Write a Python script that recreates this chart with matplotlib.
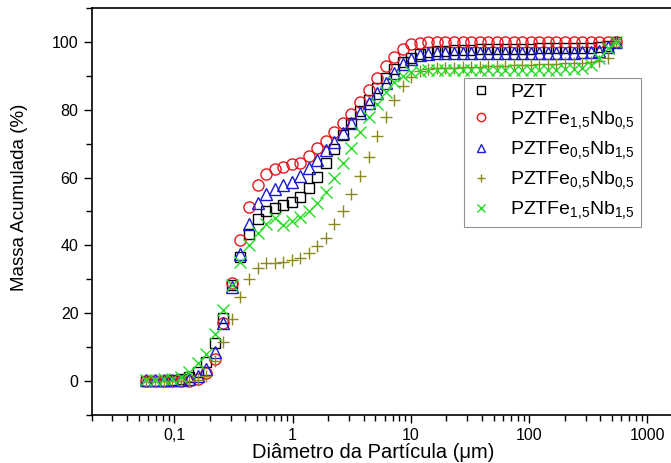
import numpy as np
import matplotlib.pyplot as plt
from matplotlib.ticker import FixedLocator, FixedFormatter, LogLocator, MultipleLocator

plt.rcParams['font.family'] = ['Liberation Sans', 'DejaVu Sans']
plt.rcParams['mathtext.default'] = 'regular'

# particle diameter (um)
diam = [0.0582, 0.0688, 0.0812, 0.0959, 0.1132, 0.1337, 0.1578, 0.1864, 0.2200, 0.2598,
        0.3069, 0.3624, 0.4280, 0.5054, 0.5967, 0.7048, 0.8322, 0.9827, 1.160, 1.370,
        1.618, 1.911, 2.256, 2.665, 3.147, 3.716, 4.388, 5.181, 6.118, 7.225,
        8.532, 10.07, 11.90, 14.05, 16.59, 19.59, 23.14, 27.32, 32.26, 38.09,
        44.98, 53.12, 62.72, 74.07, 87.46, 103.3, 121.9, 144.0, 170.0, 200.8,
        237.2, 280.1, 330.7, 390.6, 461.2, 544.5]

pzt = [0.0, 0.0, 0.1, 0.2, 0.6, 1.3, 2.7, 5.7, 11.1, 18.5,
       28.3, 36.7, 43.4, 47.9, 50.2, 51.1, 51.8, 52.7, 54.3, 56.8,
       60.3, 64.2, 68.3, 72.6, 76.0, 79.5, 83.0, 86.5, 89.5, 92.0,
       94.0, 95.3, 96.3, 96.9, 97.2, 97.4, 97.5, 97.6, 97.7, 97.8,
       97.8, 97.9, 97.9, 98.0, 98.0, 98.0, 98.1, 98.1, 98.1, 98.2,
       98.2, 98.2, 98.3, 98.4, 98.8, 100.0]
fe15nb05 = [0.0, 0.0, 0.0, 0.0, 0.0, 0.1, 0.5, 2.3, 6.4, 17.2,
            29.0, 41.6, 51.2, 57.8, 61.2, 62.4, 63.2, 63.9, 64.4, 66.5,
            68.6, 70.9, 73.3, 76.0, 78.8, 82.2, 85.8, 89.5, 92.9, 95.7,
            97.8, 99.3, 99.8, 100.0, 100.0, 100.0, 100.0, 100.0, 100.0, 100.0,
            100.0, 100.0, 100.0, 100.0, 100.0, 100.0, 100.0, 100.0, 100.0, 100.0,
            100.0, 100.0, 100.0, 100.0, 100.0, 100.0]
fe05nb15 = [0.2, 0.2, 0.3, 0.3, 0.4, 0.6, 1.6, 3.7, 8.6, 17.2,
            27.8, 37.6, 46.3, 52.4, 55.3, 56.5, 57.8, 58.8, 60.5, 62.7,
            65.2, 68.1, 70.6, 73.0, 76.0, 78.9, 81.9, 84.8, 88.0, 90.9,
            93.5, 94.9, 96.0, 96.5, 96.7, 96.8, 96.8, 96.8, 96.8, 96.8,
            96.8, 96.8, 96.8, 96.8, 96.8, 96.8, 96.8, 96.8, 96.8, 96.8,
            96.8, 96.9, 97.0, 97.4, 98.5, 100.0]
fe05nb05 = [0.0, 0.0, 0.0, 0.0, 0.0, 0.0, 0.3, 1.5, 5.9, 11.6,
            18.4, 24.9, 30.0, 33.2, 34.7, 34.9, 35.1, 35.7, 36.4, 37.8,
            39.8, 42.1, 46.3, 50.2, 55.2, 60.5, 66.2, 72.3, 78.0, 82.9,
            87.0, 89.8, 91.5, 92.0, 92.2, 92.3, 92.4, 92.5, 92.6, 92.7,
            92.8, 92.9, 93.0, 93.1, 93.2, 93.3, 93.4, 93.5, 93.6, 93.7,
            93.8, 93.9, 94.0, 94.3, 95.3, 100.0]
fe15nb15 = [0.3, 0.4, 0.5, 0.7, 1.3, 2.7, 5.2, 8.1, 14.0, 21.1,
            28.2, 35.0, 40.1, 43.8, 46.4, 48.0, 46.0, 47.2, 48.4, 50.0,
            52.5, 55.8, 59.8, 64.2, 68.8, 73.4, 77.9, 81.8, 85.3, 88.3,
            90.0, 91.0, 91.5, 91.7, 91.8, 91.8, 91.8, 91.8, 91.8, 91.8,
            91.8, 91.8, 91.8, 91.8, 91.8, 91.8, 91.8, 91.8, 91.8, 91.9,
            92.0, 92.3, 93.2, 95.2, 98.1, 100.0]

labels = ['PZT', r'PZTFe$_{1{,}5}$Nb$_{0{,}5}$', r'PZTFe$_{0{,}5}$Nb$_{1{,}5}$',
          r'PZTFe$_{0{,}5}$Nb$_{0{,}5}$', r'PZTFe$_{1{,}5}$Nb$_{1{,}5}$']

fig = plt.figure(figsize=(6.71, 4.63), dpi=100)
ax = fig.add_axes([0.1365, 0.1037, 0.8815, 0.879])

ax.plot(diam, pzt, ls='none', marker='s', ms=7, mfc='none', mec='black', mew=1, label=labels[0])
ax.plot(diam, fe15nb05, ls='none', marker='o', ms=8, mfc='none', mec='#e8141b', mew=1, label=labels[1])
ax.plot(diam, fe05nb15, ls='none', marker='^', ms=8.5, mfc='none', mec='#1a1ad0', mew=1, label=labels[2])
ax.plot(diam, fe05nb05, ls='none', marker='+', ms=8, mec='#8c8a1e', mew=1, label=labels[3])
ax.plot(diam, fe15nb15, ls='none', marker='x', ms=8, mec='#22dd22', mew=1, label=labels[4])

ax.set_xscale('log')
ax.set_xlim(0.02, 2000)
ax.set_ylim(-10, 110)

ax.xaxis.set_major_locator(FixedLocator([0.1, 1, 10, 100, 1000]))
ax.xaxis.set_major_formatter(FixedFormatter(['0,1', '1', '10', '100', '1000']))
ax.xaxis.set_minor_locator(LogLocator(base=10, subs=np.arange(2, 10), numticks=20))
ax.yaxis.set_major_locator(MultipleLocator(20))
ax.yaxis.set_minor_locator(MultipleLocator(10))

ax.tick_params(which='both', direction='out', top=False, right=False, labelsize=11.5, width=1)
ax.tick_params(which='major', length=6)
ax.tick_params(which='minor', length=4)
ax.tick_params(axis='x', which='minor', labelbottom=False)

for s in ['left', 'bottom', 'top']:
    ax.spines[s].set_linewidth(1.2)
ax.spines['right'].set_visible(False)

ax.set_xlabel('Diâmetro da Partícula (μm)', fontsize=14.5)
ax.xaxis.set_label_coords(0.476, -0.068)
ax.set_ylabel('Massa Acumulada (%)', fontsize=13.5)
ax.yaxis.set_label_coords(-0.108, 0.536)

leg = ax.legend(loc='upper left', bbox_to_anchor=(0.6125, 0.8525), fontsize=14,
                frameon=True, fancybox=False, edgecolor='#777777', handlelength=1.2,
                handletextpad=0.9, borderpad=0.3, labelspacing=0.42, markerscale=0.75)
leg.get_frame().set_linewidth(0.8)

fig.savefig('out.png', dpi=100)
